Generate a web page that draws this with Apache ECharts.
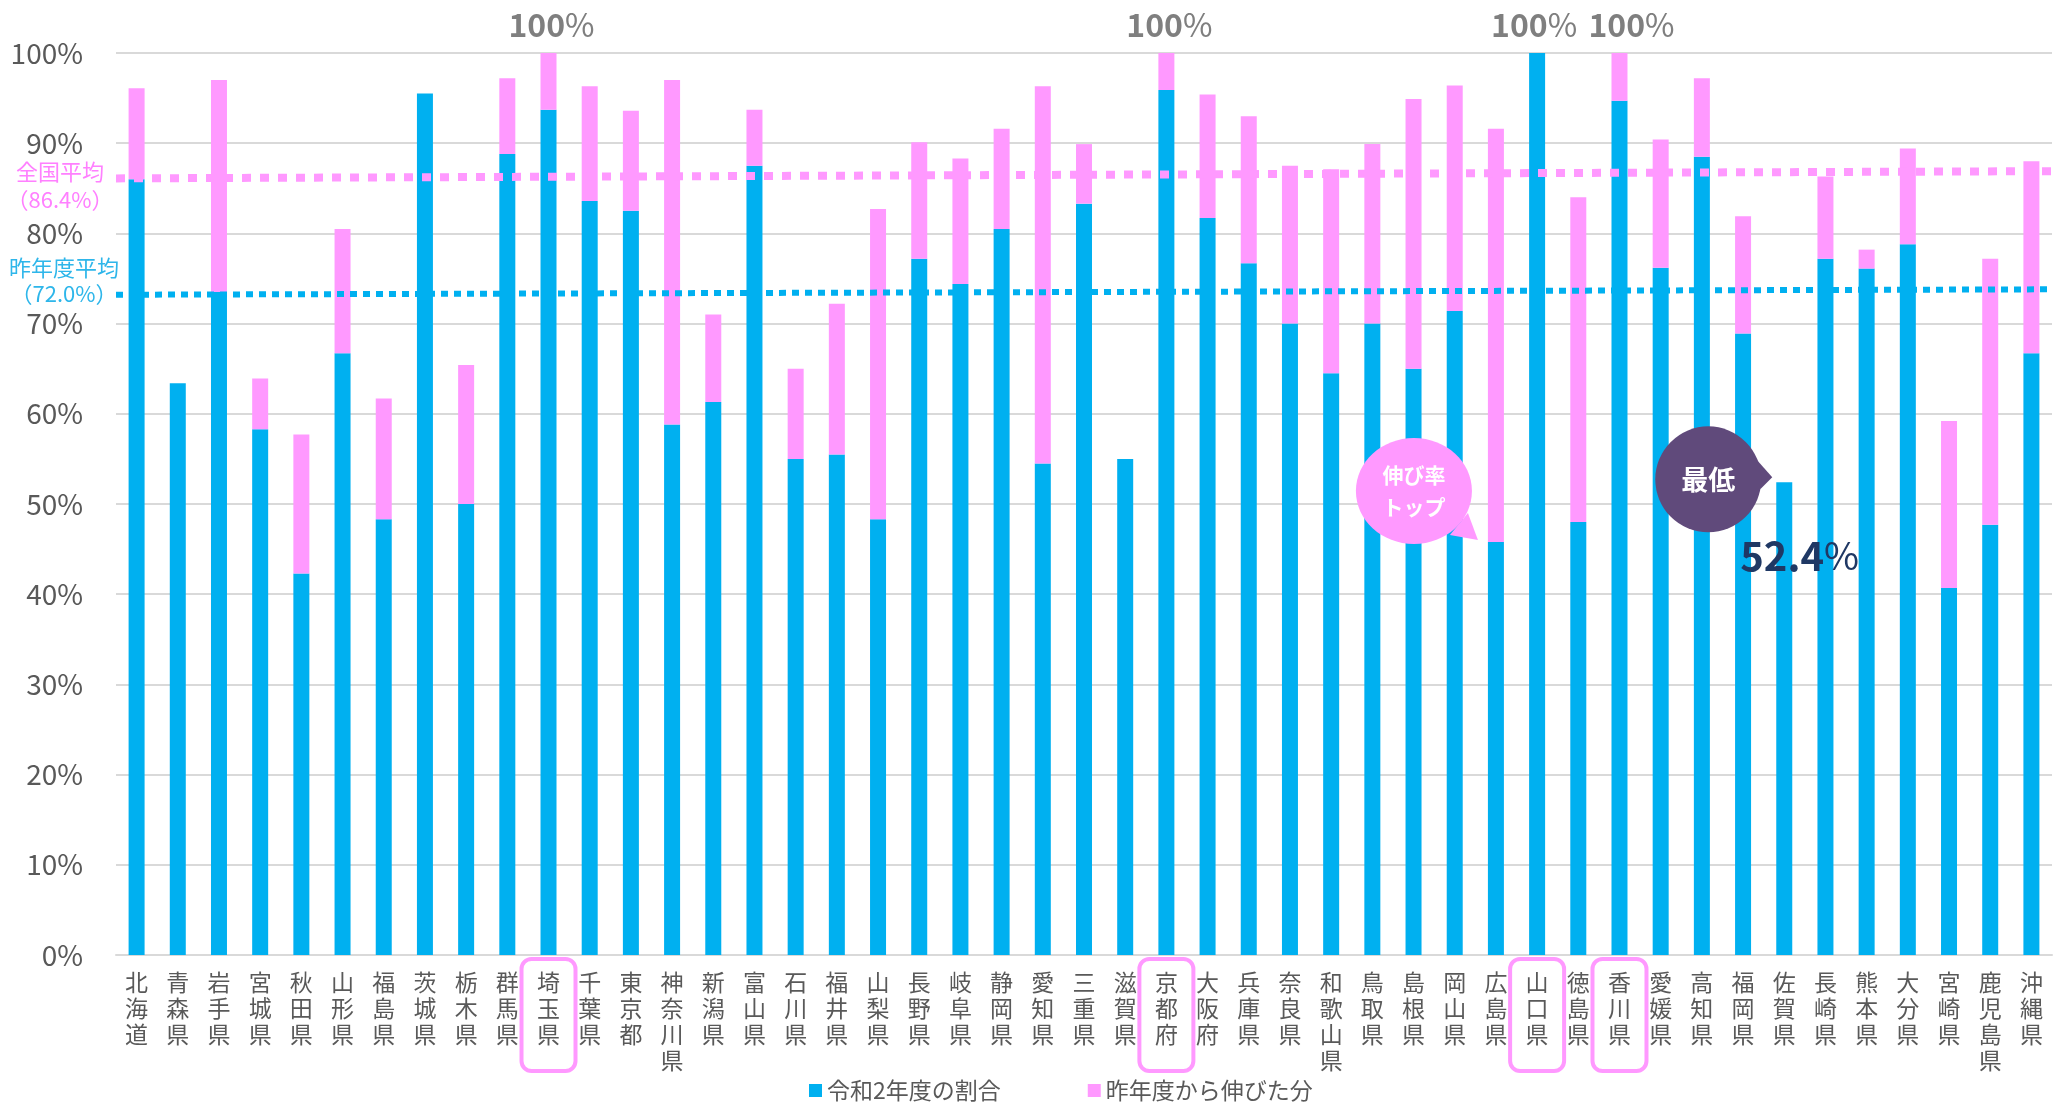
<!DOCTYPE html>
<html>
<head>
<meta charset="utf-8">
<script src="https://cdn.jsdelivr.net/npm/echarts@6/dist/echarts.min.js"></script>
<style>
  html, body { margin: 0; padding: 0; background: #fff; }
  #chart { width: 2063px; height: 1102px; }
</style>
</head>
<body>
<div id="chart"></div>
<script>
const prefectures = ['北海道', '青森県', '岩手県', '宮城県', '秋田県', '山形県', '福島県', '茨城県', '栃木県', '群馬県',
  '埼玉県', '千葉県', '東京都', '神奈川県', '新潟県', '富山県', '石川県', '福井県', '山梨県', '長野県',
  '岐阜県', '静岡県', '愛知県', '三重県', '滋賀県', '京都府', '大阪府', '兵庫県', '奈良県', '和歌山県',
  '鳥取県', '島根県', '岡山県', '広島県', '山口県', '徳島県', '香川県', '愛媛県', '高知県', '福岡県',
  '佐賀県', '長崎県', '熊本県', '大分県', '宮崎県', '鹿児島県', '沖縄県']

// 令和2年度の割合 (%)
const thisYear = [86.0, 63.4, 73.5, 58.3, 42.3, 66.7, 48.3, 95.5, 50.0, 88.8,
  93.7, 83.6, 82.5, 58.8, 61.3, 87.5, 55.0, 55.5, 48.3, 77.2,
  74.4, 80.5, 54.5, 83.3, 55.0, 95.9, 81.7, 76.7, 70.0, 64.5,
  70.0, 65.0, 71.4, 45.8, 100, 48.0, 94.7, 76.2, 88.5, 68.9,
  52.4, 77.2, 76.1, 78.8, 40.7, 47.7, 66.7]

// 昨年度から伸びた分 (%)
const growth = [10.1, 0, 23.5, 5.6, 15.4, 13.8, 13.4, 0, 15.4, 8.4,
  6.3, 12.7, 11.1, 38.2, 9.7, 6.2, 10.0, 16.7, 34.4, 12.9,
  13.9, 11.1, 41.8, 6.6, 0, 4.1, 13.7, 16.3, 17.5, 22.6,
  19.9, 29.9, 25.0, 45.8, 0, 36.0, 5.3, 14.2, 8.7, 13.0,
  0, 9.1, 2.1, 10.6, 18.5, 29.5, 21.3]

const fullMarks = ['埼玉県', '京都府', '山口県', '香川県']
const topGrowth = '広島県'
const lowest = '佐賀県'

// average lines as drawn (left end, right end)
const natAvgLine = [86.1, 86.9]
const prevAvgLine = [73.2, 73.8]
const natAvgLabel = 86.4
const prevAvgLabel = 72.0

const FONT = '"Noto Sans CJK JP", "Noto Sans", sans-serif'
const BLUE = '#00B0F0'
const PINK = '#FF99FF'

// nudge the two neighbouring 100% labels apart
const markShift = { '埼玉県': 3, '京都府': 3, '山口県': -3, '香川県': 12 }

const chart = echarts.init(document.getElementById('chart'))

chart.setOption({
  backgroundColor: '#fff',
  animation: false,
  textStyle: { fontFamily: FONT },
  legend: {
    left: 804,
    top: 1074,
    icon: 'rect',
    itemWidth: 13,
    itemHeight: 13,
    itemGap: 87,
    data: ['令和2年度の割合', '昨年度から伸びた分'],
    textStyle: { fontSize: 23, color: '#595959', fontFamily: FONT }
  },
  grid: {
    left: 116,
    right: 11,
    top: 53,
    bottom: 147
  },
  xAxis: [{
    type: 'category',
    data: prefectures,
    axisTick: { show: false },
    axisLine: { lineStyle: { color: '#D9D9D9', width: 2 } },
    axisLabel: {
      interval: 0,
      margin: 14,
      fontSize: 23,
      lineHeight: 26,
      color: '#595959',
      fontFamily: FONT,
      formatter: v => v.split('').join('\n')
    }
  }, {
    type: 'value',
    min: 0,
    max: 1,
    show: false
  }],
  yAxis: {
    type: 'value',
    min: 0,
    max: 100,
    interval: 10,
    axisLine: { show: false },
    axisTick: { show: false },
    axisLabel: {
      formatter: '{value}%',
      fontSize: 28,
      margin: 33,
      color: '#595959',
      fontFamily: FONT
    },
    splitLine: { lineStyle: { color: '#D9D9D9', width: 2 } }
  },
  series: [{
    name: '令和2年度の割合',
    type: 'bar',
    stack: 'total',
    barWidth: 16,
    itemStyle: { color: BLUE },
    data: thisYear
  }, {
    name: '昨年度から伸びた分',
    type: 'bar',
    stack: 'total',
    barWidth: 16,
    itemStyle: { color: PINK },
    data: growth,
    markPoint: {
      symbol: 'rect',
      symbolSize: 1,
      itemStyle: { color: 'rgba(0,0,0,0)' },
      label: {
        show: true,
        position: 'top',
        distance: 12,
        formatter: p => '{b|' + p.value + '}{p|%}',
        rich: {
          b: { fontSize: 32, fontWeight: 'bold', color: '#7F7F7F', fontFamily: FONT },
          p: { fontSize: 32, color: '#7F7F7F', fontFamily: FONT }
        }
      },
      data: fullMarks.map(n => ({
        coord: [n, 100],
        value: 100,
        label: { offset: [markShift[n] || 0, 0] }
      }))
    }
  }, {
    name: '全国平均',
    type: 'line',
    xAxisIndex: 1,
    symbol: 'none',
    silent: true,
    z: 5,
    lineStyle: { color: PINK, width: 8, type: [9, 9], cap: 'butt' },
    data: [[0, natAvgLine[0]], [1, natAvgLine[1]]]
  }, {
    name: '昨年度平均',
    type: 'line',
    xAxisIndex: 1,
    symbol: 'none',
    silent: true,
    z: 5,
    lineStyle: { color: BLUE, width: 6, type: [7, 6], cap: 'butt' },
    data: [[0, prevAvgLine[0]], [1, prevAvgLine[1]]]
  }]
})

// annotations placed from the chart's own scales
const pt = (name, v) => chart.convertToPixel({ xAxisIndex: 0, yAxisIndex: 0 }, [prefectures.indexOf(name), v])
const py = v => chart.convertToPixel({ yAxisIndex: 0 }, v)

const graphics = []

// boxes round the 100% prefectures' names
fullMarks.forEach(n => {
  const [x, y0] = pt(n, 0)
  graphics.push({
    type: 'rect',
    shape: { x: x - 27, y: y0 + 4, width: 54, height: 112, r: 10 },
    style: { fill: 'none', stroke: PINK, lineWidth: 4 },
    z: 100
  })
})

// 伸び率トップ bubble
{
  const i = prefectures.indexOf(topGrowth)
  const [ax, ay] = pt(topGrowth, thisYear[i])
  const tip = [ax - 18, ay - 2]
  const cx = tip[0] - 64
  const cy = tip[1] - 49
  graphics.push({
    type: 'polygon',
    shape: { points: [[cx + 36, cy + 44], [cx + 54, cy + 22], tip] },
    style: { fill: PINK },
    z: 100
  }, {
    type: 'ellipse',
    shape: { cx: cx, cy: cy, rx: 58, ry: 53 },
    style: { fill: PINK },
    z: 100
  }, {
    type: 'text',
    x: cx,
    y: cy,
    z: 101,
    style: {
      text: '伸び率\nトップ',
      fill: '#fff',
      font: 'bold 21px ' + FONT,
      align: 'center',
      verticalAlign: 'middle',
      lineHeight: 32
    }
  })
}

// 最低 bubble and value
{
  const i = prefectures.indexOf(lowest)
  const [ax, ay] = pt(lowest, thisYear[i])
  const tip = [ax - 12, ay - 5]
  const cx = tip[0] - 64
  const cy = tip[1] + 2
  graphics.push({
    type: 'polygon',
    shape: { points: [[cx + 48, cy - 20], [cx + 52, cy + 10], tip] },
    style: { fill: '#604A7B' },
    z: 100
  }, {
    type: 'circle',
    shape: { cx: cx, cy: cy, r: 53 },
    style: { fill: '#604A7B' },
    z: 100
  }, {
    type: 'text',
    x: cx,
    y: cy,
    z: 101,
    style: {
      text: '最低',
      fill: '#fff',
      font: 'bold 27px ' + FONT,
      align: 'center',
      verticalAlign: 'middle'
    }
  }, {
    type: 'text',
    x: ax - 44,
    y: ay + 73,
    z: 101,
    style: {
      text: '{b|' + thisYear[i].toFixed(1) + '}{p|%}',
      align: 'left',
      verticalAlign: 'middle',
      rich: {
        b: { font: 'bold 40px ' + FONT, fill: '#1F3864' },
        p: { font: '38px ' + FONT, fill: '#1F3864' }
      }
    }
  })
}

// average labels on the left
graphics.push({
  type: 'text',
  x: 60,
  y: py(natAvgLabel) + 10,
  z: 101,
  style: {
    text: '全国平均\n（' + natAvgLabel.toFixed(1) + '%）',
    fill: '#FF80FF',
    font: '22px ' + FONT,
    align: 'center',
    verticalAlign: 'middle',
    lineHeight: 28
  }
}, {
  type: 'text',
  x: 64,
  y: py(prevAvgLabel) - 25,
  z: 101,
  style: {
    text: '昨年度平均\n（' + prevAvgLabel.toFixed(1) + '%）',
    fill: '#2EB6EA',
    font: '22px ' + FONT,
    align: 'center',
    verticalAlign: 'middle',
    lineHeight: 26
  }
})

chart.setOption({ graphic: graphics })
</script>
</body>
</html>
